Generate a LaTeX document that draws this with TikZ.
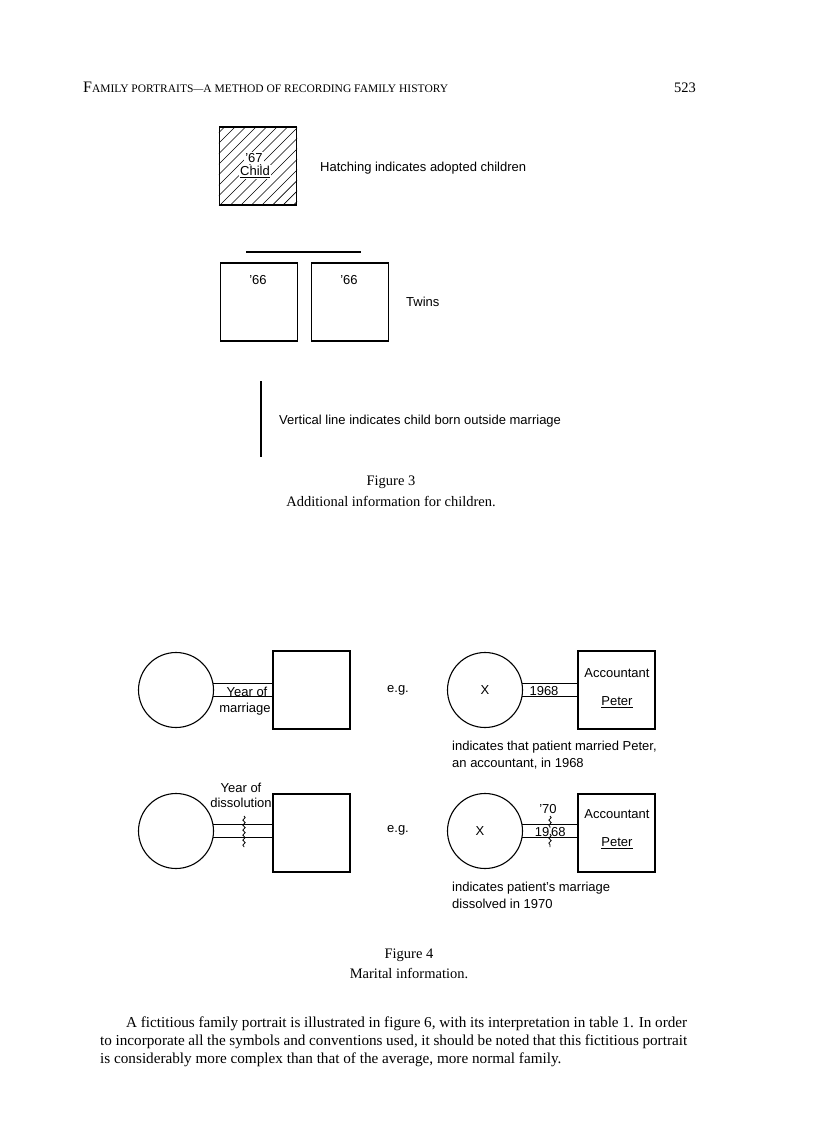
\documentclass[tikz,border=0pt]{standalone}
\usepackage{fontspec}
\setmainfont{Liberation Serif}
\newfontfamily\sansf{Liberation Sans}
\usetikzlibrary{decorations.pathmorphing}
\newcommand{\fsc}[2]{{\fontsize{16}{18}\selectfont #1}{\fontsize{11.5}{13}\selectfont #2}}
\begin{document}
\begin{tikzpicture}[x=1pt,y=-1pt,
  sq/.style={draw, line width=1.2pt, minimum width=77pt, minimum height=78pt, inner sep=0pt},
  circ/.style={draw, circle, line width=1.1pt, minimum size=75pt, inner sep=0pt},
  sl/.style={font=\sansf\fontsize{13}{15}\selectfont, inner sep=0pt},
  sr/.style={font=\fontsize{14.5}{17}\selectfont, inner sep=0pt},
  para/.style={font=\fontsize{15.2}{17}\selectfont, inner sep=0pt},
  conn/.style={line width=1.1pt},
  wig/.style={decorate, decoration={snake, amplitude=1.2pt, segment length=5pt}, line width=0.8pt}]
\useasboundingbox (0,0) rectangle (816,1145);
\fill[white] (0,0) rectangle (816,1145);
% header
\node[anchor=base west, inner sep=0pt] (hdr) at (83,93) {\fsc{F}{AMILY PORTRAITS}---\fsc{}{A METHOD OF RECORDING FAMILY HISTORY}};
\node[anchor=base west, inner sep=0pt, font=\fontsize{14.5}{16}\selectfont] (pg) at (674,93) {523};
% hatched box
\node[sq] (adopt) at (258,166) {};
\begin{scope}
\clip (adopt.south west) rectangle (adopt.north east);
\foreach \i in {-8,...,8} \draw[line width=0.7pt] (219+\i*10.5,206) -- (299+\i*10.5,126);
\end{scope}
\node[sq] (adoptf) at (258,166) {};
\node[sl, fill=white, inner sep=1pt] (y67) at (254,158) {\textquoteright 67};
\node[sl, fill=white, inner sep=1pt] (child) at (255,172) {\underline{Child}};
\node[sl, anchor=base west] (hatch) at (320,171) {Hatching indicates adopted children};
% twins
\node[sq] (tw1) at (259,302) {};
\node[sq] (tw2) at (350,302) {};
\coordinate (twl) at (246,252);
\coordinate (twr) at (361,252);
\draw[line width=1.2pt] (twl) -- (twr);
\node[sl] (t66a) at (258,280) {\textquoteright 66};
\node[sl] (t66b) at (349,280) {\textquoteright 66};
\node[sl, anchor=base west] (twins) at (406,306) {Twins};
% vertical line
\coordinate (vt) at (261,381);
\coordinate (vb) at (261,457);
\draw[line width=1.4pt] (vt) -- (vb);
\node[sl, anchor=base west] (vtext) at (279,424) {Vertical line indicates child born outside marriage};
% Figure 3 caption
\node[sr] (f3) at (391,482) {Figure 3};
\node[sr] (f3c) at (391,501) {Additional information for children.};
% Figure 4 top left
\node[circ] (c1) at (176,690) {};
\node[sq] (s1) at (311.5,690) {};
\draw[conn] (c1.10) -- (c1.10 -| s1.west);
\draw[conn] (c1.-10) -- (c1.-10 -| s1.west);
\node[sl, anchor=base] (yom) at (247,696) {Year of};
\node[sl] (mar) at (245,709) {marriage};
\node[sl] (eg1) at (398,690) {e.g.};
% top right
\node[circ] (c2) at (485,690) {};
\node[sl] (x1) at (485,690) {X};
\node[sq] (s2) at (616.5,690) {};
\draw[conn] (c2.10) -- (c2.10 -| s2.west);
\draw[conn] (c2.-10) -- (c2.-10 -| s2.west);
\node[sl, anchor=base] (y68) at (544,695.5) {1968};
\node[sl] (acc1) at (617,673) {Accountant};
\node[sl] (pet1) at (617,702) {\underline{Peter}};
\node[sl, anchor=base west] (cap1) at (452,750) {indicates that patient married Peter,};
\node[sl, anchor=base west] (cap2) at (452,767) {an accountant, in 1968};
% bottom left
\node[circ] (c3) at (176,831) {};
\node[sq] (s3) at (311.5,833) {};
\draw[conn] (c3.10) -- (c3.10 -| s3.west);
\draw[conn] (c3.-10) -- (c3.-10 -| s3.west);
\node[sl] (yod1) at (241,788) {Year of};
\node[sl] (yod2) at (241,803) {dissolution};
\coordinate (w1t) at (244,816);
\coordinate (w1b) at (244,847);
\draw[wig] (w1t) -- (w1b);
\node[sl] (eg2) at (398,830) {e.g.};
% bottom right
\node[circ] (c4) at (485,831) {};
\node[sl] (x2) at (480,831) {X};
\node[sq] (s4) at (616.5,833) {};
\draw[conn] (c4.10) -- (c4.10 -| s4.west);
\draw[conn] (c4.-10) -- (c4.-10 -| s4.west);
\node[sl] (y70) at (548,809) {\textquoteright 70};
\node[sl, anchor=base east] (y19) at (549.5,836) {19};
\node[sl, anchor=base west] (y68b) at (551,836) {68};
\coordinate (w2t) at (550,816);
\coordinate (w2m) at (550,828);
\coordinate (w2n) at (550,834);
\coordinate (w2b) at (550,847);
\draw[wig] (w2t) -- (w2m);
\draw[wig] (w2n) -- (w2b);
\node[sl] (acc2) at (617,814) {Accountant};
\node[sl] (pet2) at (617,843) {\underline{Peter}};
\node[sl, anchor=base west] (cap3) at (452,891) {indicates patient\textquoteright s marriage};
\node[sl, anchor=base west] (cap4) at (452,908) {dissolved in 1970};
% Figure 4 caption
\node[sr] (f4) at (409,955) {Figure 4};
\node[sr] (f4c) at (409,973) {Marital information.};
% paragraph
\node[para, anchor=base west] (p1) at (126,1027) {\makebox[561pt][s]{A fictitious family portrait is illustrated in figure 6, with its interpretation in table 1. In order}};
\node[para, anchor=base west] (p2) at (100,1045) {\makebox[587pt][s]{to incorporate all the symbols and conventions used, it should be noted that this fictitious portrait}};
\node[para, anchor=base west] (p3) at (100,1063) {is considerably more complex than that of the average, more normal family.};
\end{tikzpicture}
\end{document}
